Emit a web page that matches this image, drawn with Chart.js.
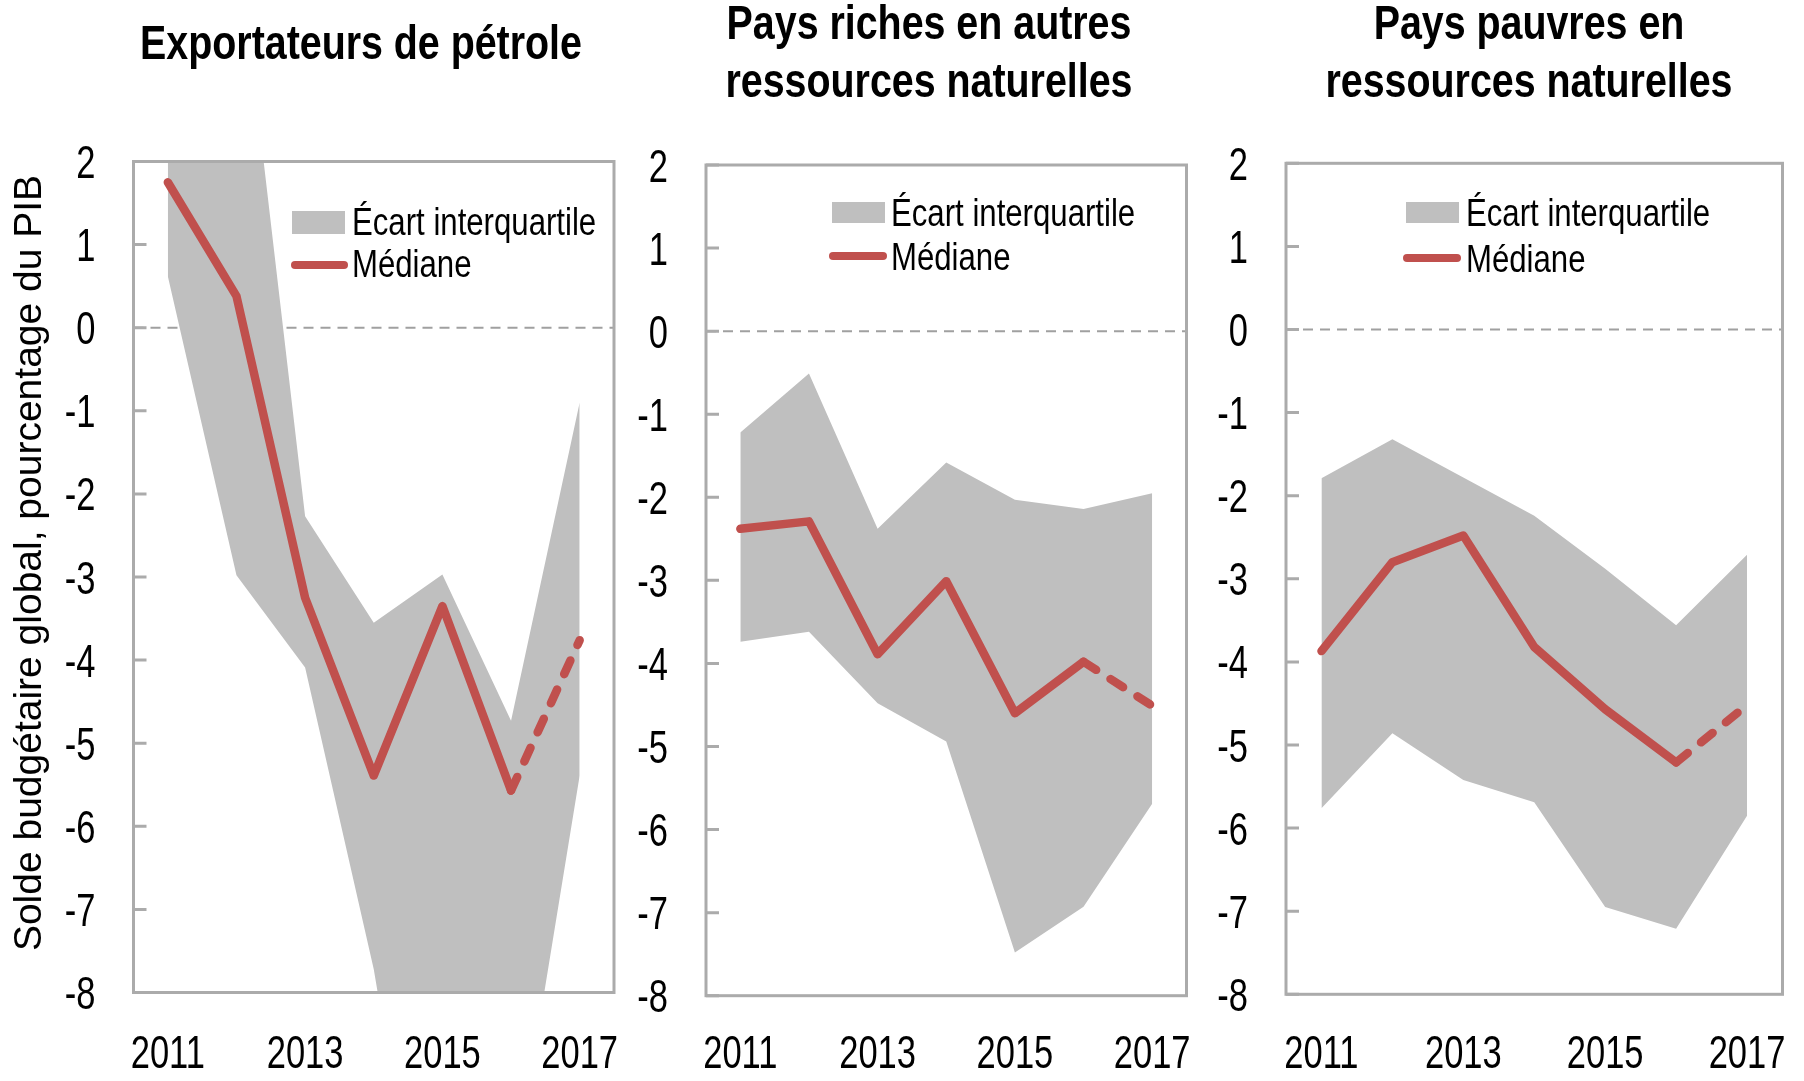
<!DOCTYPE html>
<html>
<head>
<meta charset="utf-8">
<script src="https://cdn.jsdelivr.net/npm/chart.js@4.4.1/dist/chart.umd.min.js"></script>
<style>
  html, body { margin: 0; padding: 0; background: #fff; }
  body { width: 1804px; height: 1081px; position: relative; overflow: hidden; }
  canvas { position: absolute; top: 0; }
  .title { position: absolute; text-align: center; width: 640px; font: bold 48px 'Liberation Sans', Arial, sans-serif; line-height: 58px; color: #000; transform: scaleX(0.82); transform-origin: 50% 0; white-space: nowrap; }
  .ytitle { position: absolute; width: 900px; height: 46px; line-height: 46px; text-align: center; font: 39px 'Liberation Sans', Arial, sans-serif; transform: rotate(-90deg); color: #000; white-space: nowrap; }
  .lgtext { position: absolute; font: 38px 'Liberation Sans', Arial, sans-serif; line-height: 38px; white-space: nowrap; color: #000; transform: scaleX(0.82); transform-origin: 0 0; }
  .swatch { position: absolute; background: #bfbfbf; }
  .lgline { position: absolute; background: #c0504d; height: 8px; border-radius: 4px; }
</style>
</head>
<body>
<canvas id="oilChart" width="650" height="1081" style="left:0px"></canvas>
<canvas id="richChart" width="620" height="1081" style="left:620px"></canvas>
<canvas id="poorChart" width="614" height="1081" style="left:1190px"></canvas>

<div class="title" style="left:41px; top:14px">Exportateurs de pétrole</div>
<div class="title" style="left:609px; top:-6px">Pays riches en autres<br>ressources naturelles</div>
<div class="title" style="left:1209px; top:-6px">Pays pauvres en<br>ressources naturelles</div>
<div class="ytitle" style="left:-421px; top:540px">Solde budgétaire global, pourcentage du PIB</div>

<script>
// years on the x axis
const years = ['2011', '2012', '2013', '2014', '2015', '2016', '2017'];
const yTicks = [2, 1, 0, -1, -2, -3, -4, -5, -6, -7, -8];

// Exportateurs de pétrole
const oilMedian = [1.75, 0.38, -3.25, -5.39, -3.35, -5.57, -3.76];
const oilUpper = [4.5, 4.8, -2.27, -3.55, -2.97, -4.73, -0.90];
const oilLower = [0.62, -2.98, -4.09, -7.72, -12.6, -10.45, -5.39];

// Pays riches en autres ressources naturelles
const richMedian = [-2.38, -2.29, -3.89, -3.01, -4.60, -3.98, -4.51];
const richUpper = [-1.22, -0.51, -2.38, -1.58, -2.03, -2.14, -1.95];
const richLower = [-3.74, -3.62, -4.48, -4.94, -7.48, -6.93, -5.69];

// Pays pauvres en ressources naturelles
const poorMedian = [-3.87, -2.80, -2.48, -3.82, -4.57, -5.21, -4.52];
const poorUpper = [-1.79, -1.32, -1.78, -2.24, -2.88, -3.56, -2.71];
const poorLower = [-5.76, -4.86, -5.42, -5.69, -6.95, -7.21, -5.85];

const seriesNames = ['Écart interquartile', 'Médiane'];

const RED = '#c0504d';
const BAND = '#bfbfbf';
const FRAME = '#ababab';
const TICK_FONT = "46px 'Liberation Sans', Arial, sans-serif";
const SQUEEZE = 0.75; // narrow look of the original labels

// frame, inward ticks, dashed zero line and narrow tick labels
const framePlugin = {
  id: 'frame',
  beforeDatasetsDraw(chart) {
    const ctx = chart.ctx, a = chart.chartArea, y = chart.scales.y;
    const y0 = y.getPixelForValue(0);
    ctx.save();
    ctx.strokeStyle = '#a0a0a0';
    ctx.lineWidth = 2;
    ctx.setLineDash([10, 7]);
    ctx.beginPath();
    ctx.moveTo(a.left, y0);
    ctx.lineTo(a.right, y0);
    ctx.stroke();
    ctx.restore();
  },
  afterDatasetsDraw(chart) {
    const ctx = chart.ctx, a = chart.chartArea, x = chart.scales.x, y = chart.scales.y;
    ctx.save();
    ctx.strokeStyle = FRAME;
    ctx.lineWidth = 3;
    ctx.strokeRect(a.left, a.top, a.right - a.left, a.bottom - a.top);
    ctx.beginPath();
    yTicks.forEach(v => {
      const py = y.getPixelForValue(v);
      ctx.moveTo(a.left, py);
      ctx.lineTo(a.left + 13, py);
    });
    ctx.stroke();

    ctx.fillStyle = '#000';
    ctx.font = TICK_FONT;
    ctx.textBaseline = 'alphabetic';
    ctx.textAlign = 'right';
    yTicks.forEach(v => {
      ctx.save();
      ctx.translate(a.left - 38, y.getPixelForValue(v) + 16.5);
      ctx.scale(SQUEEZE, 1);
      ctx.fillText(String(v), 0, 0);
      ctx.restore();
    });
    ctx.textAlign = 'center';
    years.forEach((yr, i) => {
      if (i % 2) return;
      ctx.save();
      ctx.translate(x.getPixelForValue(i), 1068);
      ctx.scale(SQUEEZE, 1);
      ctx.fillText(yr, 0, 0);
      ctx.restore();
    });
    ctx.restore();
  }
};

function makeChart(id, median, upper, lower, box) {
  // box: y-axis width, right padding, top padding, x-axis height
  return new Chart(document.getElementById(id), {
    type: 'line',
    data: {
      labels: years,
      datasets: [
        {
          label: 'lower',
          data: lower,
          borderWidth: 0,
          pointRadius: 0,
          fill: false,
          order: 2
        },
        {
          label: seriesNames[0],
          data: upper,
          borderWidth: 0,
          pointRadius: 0,
          backgroundColor: BAND,
          fill: '-1',
          order: 1
        },
        {
          label: seriesNames[1],
          data: median,
          borderColor: RED,
          borderWidth: 8.5,
          borderCapStyle: 'round',
          borderJoinStyle: 'round',
          pointRadius: 0,
          fill: false,
          order: 0,
          segment: {
            borderDash: c => c.p0DataIndex >= 5 ? [15, 17] : undefined
          }
        }
      ]
    },
    options: {
      responsive: false,
      animation: false,
      devicePixelRatio: 1,
      layout: { padding: { left: 0, right: box.right, top: box.top, bottom: 0 } },
      plugins: { legend: { display: false }, tooltip: { enabled: false } },
      scales: {
        x: {
          offset: true,
          grid: { display: false, drawTicks: false },
          border: { display: false },
          ticks: { display: false },
          afterFit(s) { s.height = box.bottom; s.paddingLeft = 0; s.paddingRight = 0; }
        },
        y: {
          min: -8,
          max: 2,
          grid: { display: false, drawTicks: false },
          border: { display: false },
          ticks: { display: false, stepSize: 1 },
          afterFit(s) { s.width = box.left; s.paddingTop = 0; s.paddingBottom = 0; }
        }
      }
    },
    plugins: [framePlugin]
  });
}

makeChart('oilChart', oilMedian, oilUpper, oilLower, { left: 133.5, right: 36, top: 161.5, bottom: 88.5 });
makeChart('richChart', richMedian, richUpper, richLower, { left: 86, right: 53.5, top: 165, bottom: 85.3 });
makeChart('poorChart', poorMedian, poorUpper, poorLower, { left: 96, right: 21.5, top: 163.3, bottom: 86.7 });

// legends inside each plot
const legends = [
  { sw: [291.5, 210.5, 53, 23], line: [290.5, 261, 57], tx: 352, t1: 203.0, t2: 244.7 },
  { sw: [831.5, 201.7, 53.5, 21], line: [829, 252, 58], tx: 891, t1: 194.0, t2: 238.0 },
  { sw: [1406, 201.7, 53, 21], line: [1403, 253.7, 58], tx: 1466, t1: 194.0, t2: 239.7 }
];
legends.forEach(l => {
  const sw = document.createElement('div');
  sw.className = 'swatch';
  sw.style.cssText = `left:${l.sw[0]}px;top:${l.sw[1]}px;width:${l.sw[2]}px;height:${l.sw[3]}px`;
  document.body.appendChild(sw);
  const ln = document.createElement('div');
  ln.className = 'lgline';
  ln.style.cssText = `left:${l.line[0]}px;top:${l.line[1]}px;width:${l.line[2]}px`;
  document.body.appendChild(ln);
  [[seriesNames[0], l.t1], [seriesNames[1], l.t2]].forEach(([txt, top]) => {
    const d = document.createElement('div');
    d.className = 'lgtext';
    d.style.left = l.tx + 'px';
    d.style.top = top + 'px';
    d.textContent = txt;
    document.body.appendChild(d);
  });
});
</script>
</body>
</html>
